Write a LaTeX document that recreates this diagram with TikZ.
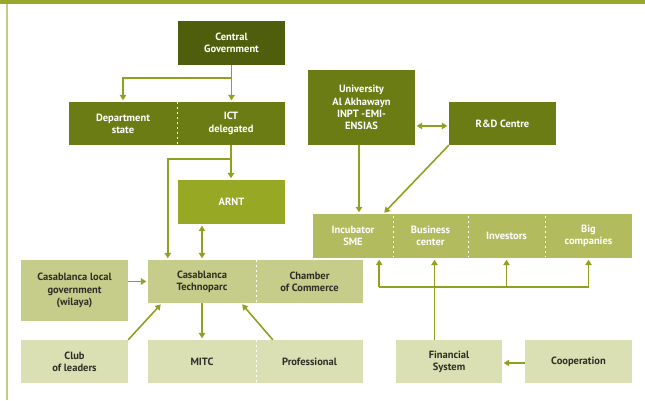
\documentclass[tikz,border=0pt]{standalone}
\usepackage{fontspec}
\setmainfont{PT Sans}
\usetikzlibrary{arrows.meta}
\definecolor{barcol}{HTML}{98A82A}
\definecolor{edgecol}{HTML}{C4CC84}
\definecolor{darkol}{HTML}{4E5E0C}
\definecolor{midol}{HTML}{6B7C15}
\definecolor{brightol}{HTML}{97A825}
\definecolor{paleol}{HTML}{B2BC5E}
\definecolor{lightol}{HTML}{C6CD8A}
\definecolor{faintol}{HTML}{DBE0B4}
\definecolor{arrcol}{HTML}{8FA11F}
\definecolor{inkcol}{HTML}{2E2E26}
\tikzset{
  box/.style={rectangle,inner sep=0pt,align=center,font=\bfseries\fontsize{10.5}{12.3}\selectfont},
  arr/.style={draw=arrcol,line width=1.6pt,-{Triangle[length=5.5pt,width=6.5pt]},shorten >=1.5pt},
  divider/.style={draw=white,line width=1.1pt,dash pattern=on 2.5pt off 2.5pt}
}
\begin{document}
\begin{tikzpicture}[x=1pt,y=-1pt]
\useasboundingbox (0,0) rectangle (645,400);
\fill[barcol] (0,0) rectangle (645,4);
\path[draw=edgecol,line width=1.6pt] (7,4) -- (7,400);

% top of the chain
\node[box,fill=darkol,text=white,minimum width=107,minimum height=44] at (231.5,43)(cg){Central\\Government};
\node[box,fill=midol,text=white,minimum width=108,minimum height=43] at (123,123.5)(dep){Department\\state};
\node[box,fill=midol,text=white,minimum width=108,minimum height=43] at (231,123.5)(ict){ICT\\delegated};
\node[box,fill=midol,text=white,minimum width=107,minimum height=75] at (361.5,107.5)(uni){University\\Al Akhawayn\\INPT -EMI-\\ENSIAS};
\node[box,fill=midol,text=white,minimum width=107,minimum height=43] at (502.5,123.5)(rd){R\&D Centre};
\node[box,fill=brightol,text=white,minimum width=107,minimum height=44] at (231.5,202)(arnt){ARNT};

% incubator strip
\foreach \n/\x/\w/\t in {inc/353/80/Incubator\\SME, bus/430.5/75/Business\\center, inv/506.5/77/Investors, big/588.5/87/Big\\companies}{
    \node[box,fill=paleol,text=white,minimum width=\w,minimum height=44] at (\x,236)(\n){\t};
}

% technoparc level
\node[box,fill=lightol,text=inkcol,minimum width=107,minimum height=61] at (74.5,290.5)(local){Casablanca local\\government\\(wilaya)};
\node[box,fill=lightol,text=inkcol,minimum width=108,minimum height=43] at (202,281.5)(techno){Casablanca\\Technoparc};
\node[box,fill=lightol,text=inkcol,minimum width=107,minimum height=43] at (309.5,281.5)(chamber){Chamber\\of Commerce};

% bottom row
\foreach \n/\x/\w/\t in {club/74.5/107/Club\\of leaders, mitc/202/108/MITC, prof/309.5/107/Professional, fin/449/106/Financial\\System, coop/578.5/107/Cooperation}{
    \node[box,fill=faintol,text=inkcol,minimum width=\w,minimum height=43] at (\x,361.5)(\n){\t};
}

% dividers
\path[divider] (dep.north east) -- (dep.south east);
\path[divider] (techno.north east) -- (techno.south east);
\path[divider] (mitc.north east) -- (mitc.south east);
\foreach \n in {inc,bus,inv}{
    \path[divider] ([yshift=-2pt]\n.north east) -- ([yshift=2pt]\n.south east);
}
\path[divider] (inc.south west) -- (chamber.north east |- inc.south);

% connectors
\draw[arr] (cg.south) -- (cg.south |- ict.north);
\draw[arr] ([yshift=-13pt]cg.south) -| (dep.north);
\draw[arr] (ict.south) -- (ict.south |- arnt.north);
\draw[arr] ([yshift=-14pt]ict.south) -| ([xshift=20pt]techno.north west);
\draw[arr,{Triangle[length=5.5pt,width=6.5pt]}-{Triangle[length=5.5pt,width=6.5pt]},shorten <=1.5pt] (arnt.south -| techno.north) -- (techno.north);
\draw[arr] (local.east |- techno.west) -- (techno.west);
\draw[arr] (techno.south) -- (mitc.north);
\draw[arr] (club.north east) -- ([xshift=14pt]techno.south west);
\draw[arr] ([xshift=17pt]prof.north west) -- ([xshift=-15pt]techno.south east);
\draw[arr,{Triangle[length=5.5pt,width=6.5pt]}-{Triangle[length=5.5pt,width=6.5pt]},shorten <=1.5pt] ([yshift=-2.5pt]uni.east |- rd.west) -- ([yshift=-2.5pt]rd.west);
\draw[arr] ([xshift=-2.5pt]uni.south) -- ([xshift=-2.5pt]uni.south |- inc.north);
\draw[arr] (rd.south west) -- ([xshift=-10pt]inc.north east);
\draw[arr] ([xshift=4pt]bus.south |- fin.north) -- ([xshift=4pt]bus.south);
\coordinate (barl) at ([xshift=-14pt,yshift=-29pt]inc.south east);
\draw[arr] (barl) -- (barl |- inc.south);
\path[draw=arrcol,line width=1.6pt] (barl) -- (barl -| big.south);
\draw[arr] (barl -| inv.south) -- (inv.south);
\draw[arr] (barl -| big.south) -- (big.south);
\draw[arr] ([yshift=-1.5pt]coop.west) -- ([yshift=-1.5pt]fin.east);
\end{tikzpicture}
\end{document}
